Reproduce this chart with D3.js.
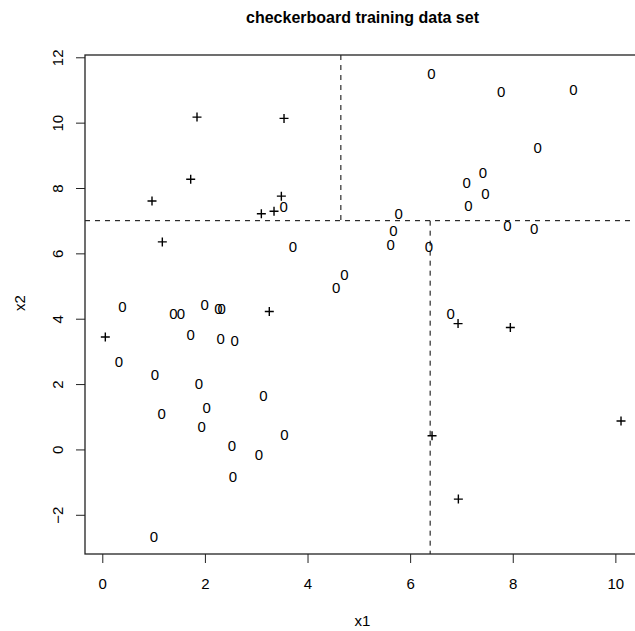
<!DOCTYPE html>
<html>
<head>
<meta charset="utf-8">
<script src="https://cdn.jsdelivr.net/npm/d3@7"></script>
<style>
  body { margin: 0; background: white; }
  text { font-family: "Liberation Sans", Arial, sans-serif; }
</style>
</head>
<body>
<div class="chart"></div>
<script>
// class "0" points
const zeroX = [3.536, 3.717, 0.39, 1.384, 1.534, 1.996, 2.261, 2.327, 1.723, 2.308, 2.581, 0.326,
  1.027, 1.885, 3.139, 1.158, 2.035, 1.938, 3.548, 2.528, 3.055, 2.548, 1.008,
  6.413, 7.772, 9.18, 8.487, 7.42, 7.10, 7.466, 7.135, 5.778, 5.673, 7.895, 8.415,
  5.622, 6.368, 4.717, 4.556, 6.79];
const zeroY = [7.43, 6.21, 4.37, 4.15, 4.15, 4.42, 4.32, 4.32, 3.51, 3.38, 3.32, 2.68,
  2.28, 2.01, 1.64, 1.11, 1.28, 0.70, 0.45, 0.12, -0.16, -0.83, -2.67,
  11.51, 10.95, 11.0, 9.25, 8.48, 8.17, 7.82, 7.46, 7.23, 6.71, 6.84, 6.76,
  6.26, 6.20, 5.35, 4.94, 4.15];

// class "+" points
const plusX = [1.846, 3.542, 1.723, 0.969, 3.49, 3.10, 3.347, 1.170, 3.255, 0.059,
  6.934, 7.953, 6.427, 10.11, 6.94];
const plusY = [10.17, 10.13, 8.27, 7.60, 7.75, 7.21, 7.29, 6.35, 4.22, 3.44,
  3.85, 3.73, 0.42, 0.87, -1.52];

// tree splits
const splitY = 7.0;
const splitXTop = 4.65;
const splitXBottom = 6.39;

const xTicks = [0, 2, 4, 6, 8, 10];
const yTicks = [-2, 0, 2, 4, 6, 8, 10, 12];

const W = 635, H = 631;
const margin = ({top: 55, right: -5, bottom: 77, left: 85});

const x = d3.scaleLinear()
    .domain([-0.337, 10.48])
    .range([margin.left, W - margin.right]);

const y = d3.scaleLinear()
    .domain([-3.2, 12.07])
    .range([H - margin.bottom, margin.top]);

const svg = d3.select('.chart').append('svg')
    .attr('width', W)
    .attr('height', H);

// title
svg.append('text')
    .attr('x', 362.5)
    .attr('y', 22.7)
    .attr('text-anchor', 'middle')
    .style('font-size', '16px')
    .style('font-weight', 'bold')
    .text('checkerboard training data set');

// dashed split lines
const dash = svg.append('g')
    .attr('stroke', 'black')
    .attr('stroke-width', 1)
    .attr('stroke-dasharray', '5,5');

dash.append('line')
    .attr('x1', x.range()[0]).attr('x2', x.range()[1])
    .attr('y1', y(splitY)).attr('y2', y(splitY));
dash.append('line')
    .attr('x1', x(splitXTop)).attr('x2', x(splitXTop))
    .attr('y1', y.range()[1]).attr('y2', y(splitY));
dash.append('line')
    .attr('x1', x(splitXBottom)).attr('x2', x(splitXBottom))
    .attr('y1', y(splitY)).attr('y2', y.range()[0]);

// points
svg.append('g').selectAll('text')
    .data(d3.range(zeroX.length))
    .enter()
    .append('text')
    .attr('x', i => x(zeroX[i]))
    .attr('y', i => y(zeroY[i]))
    .attr('dy', '0.36em')
    .attr('text-anchor', 'middle')
    .style('font-size', '15px')
    .text('0');

svg.append('g').selectAll('path')
    .data(d3.range(plusX.length))
    .enter()
    .append('path')
    .attr('transform', i => `translate(${x(plusX[i])},${y(plusY[i])})`)
    .attr('d', 'M-4.5,0H4.5M0,-4.5V4.5')
    .attr('stroke', 'black')
    .attr('stroke-width', 1.4)
    .attr('fill', 'none');

// box
svg.append('rect')
    .attr('x', x.range()[0])
    .attr('y', y.range()[1])
    .attr('width', x.range()[1] - x.range()[0])
    .attr('height', y.range()[0] - y.range()[1])
    .attr('fill', 'none')
    .attr('stroke', '#222')
    .attr('stroke-width', 1.3);

// axes
const xAxis = svg.append('g')
    .attr('transform', `translate(0,${y.range()[0]})`)
    .call(d3.axisBottom(x).tickValues(xTicks).tickSize(9).tickSizeOuter(0).tickPadding(15));
xAxis.select('.domain').remove();
xAxis.selectAll('text')
    .style('font-size', '15px')
    .attr('font-family', null);

const yAxis = svg.append('g')
    .attr('transform', `translate(${x.range()[0]},0)`)
    .call(d3.axisLeft(y).tickValues(yTicks).tickSize(9).tickSizeOuter(0)
        .tickFormat(d => d < 0 ? '\u22122' .replace('2', Math.abs(d)) : d));
yAxis.select('.domain').remove();
yAxis.selectAll('text')
    .attr('x', null)
    .attr('dy', null)
    .attr('text-anchor', 'middle')
    .attr('transform', 'translate(-22,0) rotate(-90)')
    .attr('font-family', null)
    .style('font-size', '15px');

svg.selectAll('.tick line').attr('stroke', '#222');

// axis labels
svg.append('text')
    .attr('x', 362.5)
    .attr('y', 626)
    .attr('text-anchor', 'middle')
    .style('font-size', '15px')
    .text('x1');

svg.append('text')
    .attr('transform', 'translate(25,303) rotate(-90)')
    .attr('text-anchor', 'middle')
    .style('font-size', '15px')
    .text('x2');
</script>
</body>
</html>
